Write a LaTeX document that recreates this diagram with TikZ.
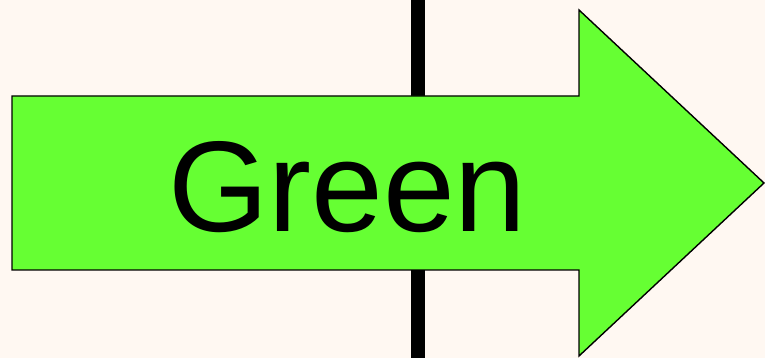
\documentclass[tikz,border=0pt]{standalone}
\usepackage{fontspec}
\setmainfont{Liberation Sans}
\usepackage{xcolor}
\usepackage{tikz}
\definecolor{cream}{HTML}{FFF8F2}
\definecolor{arrowgreen}{HTML}{66FF33}
\tikzset{
  bigarrow/.style={draw=black, fill=arrowgreen, line width=1.4pt, line join=miter},
  divider/.style={draw=black, line width=14pt},
  arrowlabel/.style={inner sep=0pt, anchor=base west, font=\fontsize{129}{136}\selectfont}
}
\begin{document}
\begin{tikzpicture}[x=1pt, y=1pt]
\fill[cream] (0,0) rectangle (765,358);
\useasboundingbox (0,0) rectangle (765,358);
\coordinate (top) at (418,358);
\coordinate (bottom) at (418,0);
\draw[divider] (bottom) -- (top);
\draw[bigarrow] (12,88) -- (12,262) -- (579,262) -- (579,348) -- (764,175)
  -- (579,2) -- (579,88) -- cycle;
\node[arrowlabel] (label) at (168,126) {Green};
\end{tikzpicture}
\end{document}
